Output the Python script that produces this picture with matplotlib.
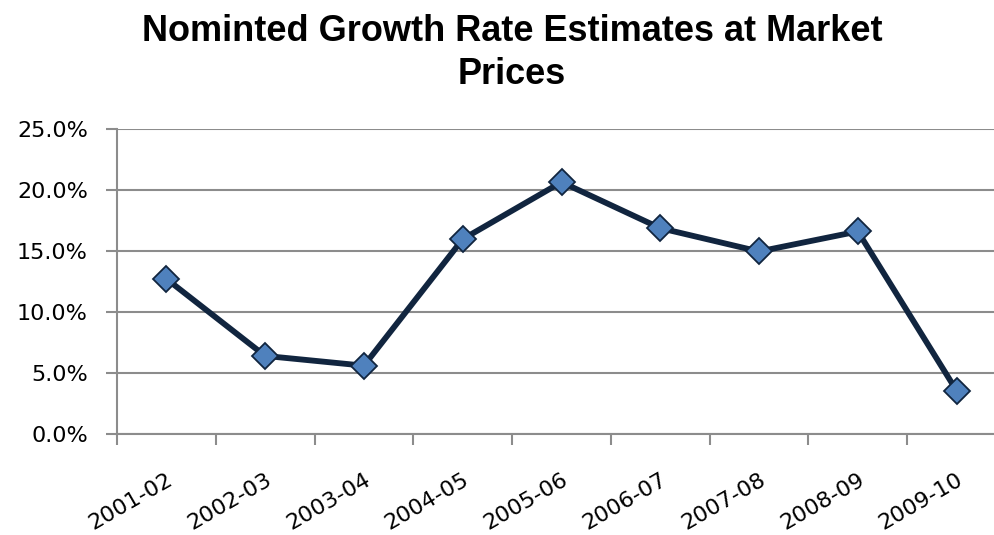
import matplotlib
matplotlib.use("Agg")
import matplotlib.pyplot as plt
from matplotlib.ticker import FixedLocator, FuncFormatter

# data
years = ["2001-02", "2002-03", "2003-04", "2004-05", "2005-06",
         "2006-07", "2007-08", "2008-09", "2009-10"]
growth = [0.1273, 0.0642, 0.0562, 0.1598, 0.2065,
          0.1688, 0.1497, 0.1661, 0.0357]
yticks = [0.0, 0.05, 0.10, 0.15, 0.20, 0.25]

LINE = "#11253f"
FACE = "#4f81bd"
GRID = "#8c8c8c"

fig = plt.figure(figsize=(9.95, 5.35), dpi=100)
ax = fig.add_axes([117 / 995, 100.7 / 535, 889 / 995, 305.3 / 535])

x = list(range(len(years)))
ax.plot(x, growth, color=LINE, lw=4.2, marker="D", ms=13,
        mfc=FACE, mec=LINE, mew=1.3, zorder=3, clip_on=False)

ax.set_xlim(-0.5, len(years) - 0.5)
ax.set_ylim(0, 0.25)

# y axis
ax.yaxis.set_major_locator(FixedLocator(yticks))
ax.yaxis.set_major_formatter(FuncFormatter(lambda v, p: f"{v * 100:.1f}%"))
ax.grid(axis="y", color=GRID, lw=1.5)
ax.set_axisbelow(True)

# x axis: ticks at category boundaries, labels at centres
ax.xaxis.set_major_locator(FixedLocator([i - 0.5 for i in range(len(years) + 1)]))
ax.xaxis.set_minor_locator(FixedLocator(x))
ax.set_xticklabels([], minor=False)
ax.set_xticklabels(years, minor=True, rotation=30, ha="right",
                   rotation_mode="anchor", fontsize=16, family="DejaVu Sans")
ax.tick_params(axis="x", which="minor", length=0, pad=25)
ax.tick_params(axis="x", which="major", length=8, width=1.5, color=GRID,
               direction="out")
ax.tick_params(axis="y", length=8, width=1.5, color=GRID, direction="out",
               labelsize=16, pad=13)
for lab in ax.get_yticklabels():
    lab.set_family("DejaVu Sans")

for s in ["top", "right"]:
    ax.spines[s].set_visible(False)
for s in ["left", "bottom"]:
    ax.spines[s].set_color(GRID)
    ax.spines[s].set_linewidth(1.5)

fig.text(512 / 995, 1 - 14 / 535,
         "Nominted Growth Rate Estimates at Market\nPrices",
         ha="center", va="top", fontsize=26, fontweight="bold",
         family="Liberation Sans", linespacing=1.3)

fig.savefig("out.png", dpi=100)
